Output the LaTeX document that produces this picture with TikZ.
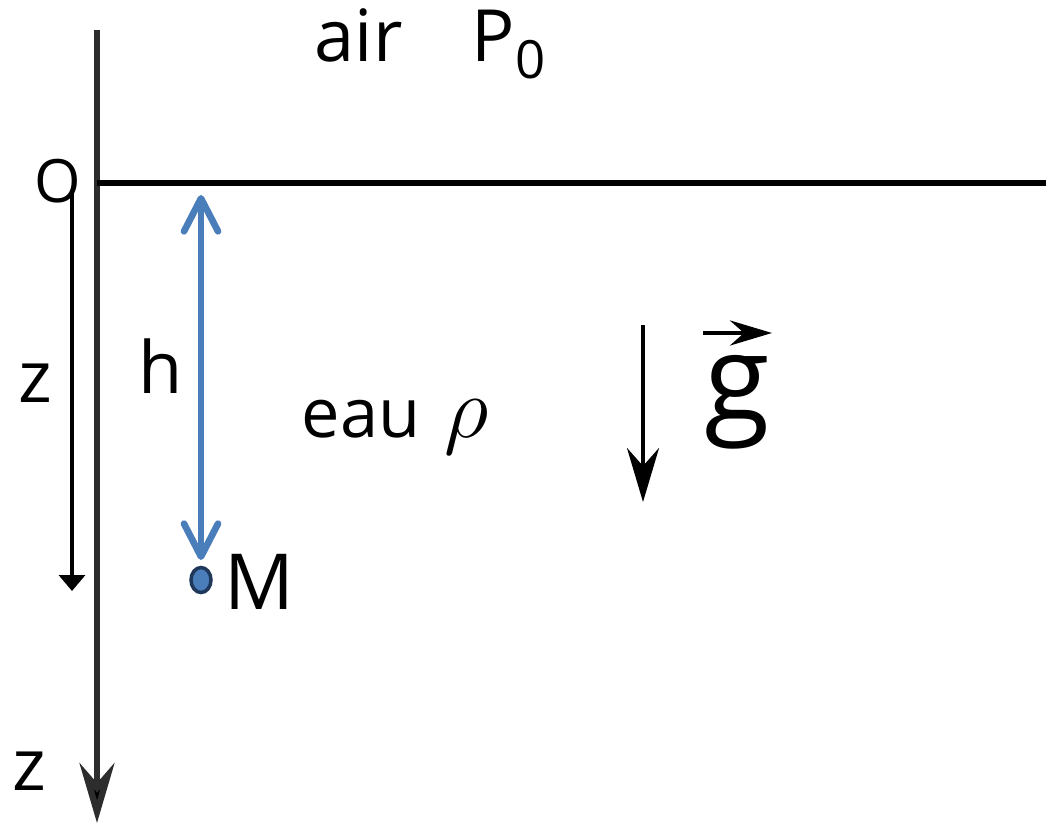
\documentclass[tikz,border=0pt]{standalone}
\usepackage{fontspec}
\setmainfont{Open Sans}
\usetikzlibrary{arrows.meta}
\definecolor{bleu}{RGB}{74,126,187}
\definecolor{bleufonce}{RGB}{31,56,90}
\definecolor{axe}{RGB}{45,45,45}
\tikzset{
  texte/.style={inner sep=0pt, anchor=base west},
  grand/.style={font=\fontsize{20.5}{24}\selectfont}
}
\begin{document}
\begin{tikzpicture}[line width=1pt, grand]
  \useasboundingbox (0,0) rectangle (10.46,-8.26);
  \coordinate (T) at (0.97,-0.30); \coordinate (Zb) at (0.97,-8.23);
  \coordinate (O) at (0.97,-1.83); \coordinate (E) at (10.46,-1.83);
  \coordinate (Z1) at (0.72,-1.93); \coordinate (Z2) at (0.72,-5.91);
  \coordinate (H1) at (2.01,-1.95); \coordinate (H2) at (2.01,-5.60);
  \coordinate (G1) at (6.43,-3.25); \coordinate (G2) at (6.43,-5.02);
  % axe vertical et surface libre
  \draw[axe, line width=1.8pt, -{Stealth[length=6mm, width=3.5mm, inset=2mm, fill=black]}] (T) -- (Zb);
  \draw[line width=1.6pt] (O) -- (E);
  % axe z (fleche fine)
  \draw[-{Triangle[length=1.6mm, width=2.6mm]}] (Z1) -- (Z2);
  % profondeur h
  \draw[bleu, line width=1.9pt, line cap=round,
    {Straight Barb[length=3.3mm, width=3.4mm, round]}-{Straight Barb[length=3.3mm, width=3.4mm, round]}] (H1) -- (H2);
  \node[draw=bleufonce, fill=bleu, circle, xscale=0.8, inner sep=0pt, minimum size=0.25cm, line width=1pt] (pm) at (2.01,-5.80) {};
  % pesanteur
  \draw[line width=1.2pt, -{Stealth[length=5.4mm, width=3.2mm, inset=1.8mm]}] (G1) -- (G2);
  \node[texte, font=\fontsize{34}{40}\selectfont] (gv) at (7.03,-4.20) {g};
  \coordinate (V1) at (7.03,-3.33); \coordinate (V2) at (7.72,-3.33);
  \draw[line width=1.3pt, -{Stealth[length=4.2mm, width=2.5mm, inset=1.4mm]}] (V1) -- (V2);
  % textes
  \node[font=\fontsize{17}{20}\selectfont] (o) at (0.58,-1.81) {O};
  \node[texte] (air) at (3.13,-0.62) {air};
  \node[texte] (p0) at (4.70,-0.62) {P\raisebox{-0.16cm}{\fontsize{15}{18}\selectfont 0}};
  \node[texte] (z1) at (0.17,-4.02) {z};
  \node[texte] (z2) at (0.11,-7.90) {z};
  \node[texte] (h) at (1.37,-3.93) {h};
  \node[texte, font=\fontsize{19.5}{23}\selectfont] (eau) at (3.00,-4.37) {eau};
  \node[texte, font=\fontsize{24}{28}\selectfont] (rho) at (4.43,-4.37) {$\rho$};
  \node[texte, font=\fontsize{22}{26}\selectfont] (m) at (2.23,-6.09) {M};
\end{tikzpicture}
\end{document}
